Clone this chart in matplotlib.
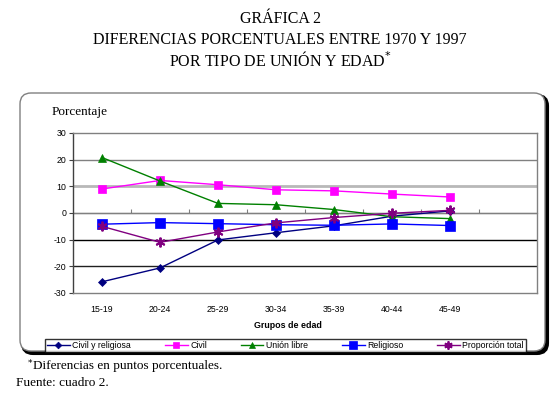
import matplotlib
matplotlib.use("Agg")
import matplotlib.pyplot as plt
from matplotlib.patches import FancyBboxPatch
from matplotlib.lines import Line2D

categories = ["15-19", "20-24", "25-29", "30-34", "35-39", "40-44", "45-49", ""]
civil_religiosa = [-25.8, -20.6, -10.1, -7.4, -4.8, -1.2, 0.8]
civil = [9.0, 12.2, 10.6, 8.7, 8.3, 7.1, 6.0]
union_libre = [20.8, 12.0, 3.6, 3.1, 1.3, -1.4, -2.1]
religioso = [-4.2, -3.6, -4.0, -4.4, -4.6, -4.1, -4.7]
proporcion_total = [-5.0, -11.0, -7.1, -3.7, -1.7, -0.1, 1.0]
yticks = [-30, -20, -10, 0, 10, 20, 30]

series = [
    ("Civil y religiosa", civil_religiosa, "#000080", "D", 4.0),
    ("Civil", civil, "#FF00FF", "s", 5.5),
    ("Unión libre", union_libre, "#008000", "^", 5.5),
    ("Religioso", religioso, "#0000FF", "s", 6.5),
    ("Proporción total", proporcion_total, "#800080", (6, 2, 0), 7.0),
]

W, H = 559, 399
fig = plt.figure(figsize=(W / 100, H / 100), dpi=100)
fig.patch.set_facecolor("white")

# background canvas in pixel coordinates
bg = fig.add_axes([0, 0, 1, 1])
bg.set_xlim(0, W)
bg.set_ylim(H, 0)
bg.axis("off")
shadow = FancyBboxPatch((22, 95), 526, 259, boxstyle="round,pad=0,rounding_size=11",
                        facecolor="black", edgecolor="black", linewidth=1.5)
bg.add_patch(shadow)
frame = FancyBboxPatch((20, 93), 525, 258, boxstyle="round,pad=0,rounding_size=11",
                       facecolor="white", edgecolor="#808080", linewidth=1.0)
bg.add_patch(frame)

serif = "Liberation Serif"
sans = "Liberation Sans"

fig.text(280 / W, 1 - 19 / H, "GRÁFICA 2", ha="center", va="center", family=serif, fontsize=11.5)
fig.text(280 / W, 1 - 40 / H, "DIFERENCIAS PORCENTUALES ENTRE 1970 Y 1997", ha="center", va="center",
         family=serif, fontsize=11.5)
fig.text(280 / W, 1 - 60 / H, "POR TIPO DE UNIÓN Y EDAD$^{*}$", ha="center", va="center",
         family=serif, fontsize=11.5)
fig.text(52 / W, 1 - 112 / H, "Porcentaje", ha="left", va="center", family=serif, fontsize=9.5)
fig.text(288 / W, 1 - 326 / H, "Grupos de edad", ha="center", va="center", family=sans,
         fontsize=6.4, fontweight="bold")
fig.text(27 / W, 1 - 366 / H, "$^{*}$", ha="left", va="center", family=serif, fontsize=9.5)
fig.text(33 / W, 1 - 366 / H, "Diferencias en puntos porcentuales.", ha="left", va="center",
         family=serif, fontsize=9.5)
fig.text(16 / W, 1 - 383 / H, "Fuente: cuadro 2.", ha="left", va="center", family=serif, fontsize=9.5)

# plot area
ax = fig.add_axes([73 / W, 1 - 293 / H, (537 - 73) / W, (293 - 133) / H])
ax.set_facecolor("white")
x = list(range(len(civil)))
ax.set_xlim(-0.5, len(categories) - 0.5)
ax.set_ylim(-30, 30)

ax.axhline(20, color="#808080", lw=1.0, zorder=1)
ax.axhline(10, color="#b8b8b8", lw=2.0, zorder=1)
ax.axhline(-10, color="black", lw=1.0, zorder=1)
ax.axhline(-20, color="#202020", lw=1.0, zorder=1)
ax.axhline(0, color="#808080", lw=1.0, zorder=1)

for name, vals, color, marker, ms in series:
    mew = 1.4 if isinstance(marker, tuple) else 0.5
    ax.plot(x, vals, color=color, lw=1.0, marker=marker, markersize=ms,
            markerfacecolor=color, markeredgecolor=color, markeredgewidth=mew, label=name, zorder=3)

for side in ["top", "right", "bottom"]:
    ax.spines[side].set_color("#808080")
    ax.spines[side].set_linewidth(1.0)
ax.spines["left"].set_color("#404040")
ax.spines["left"].set_linewidth(1.0)

ax.set_yticks(yticks)
ax.set_yticklabels([str(v) for v in yticks], family=sans, fontsize=6.3)
ax.tick_params(axis="y", length=3, width=0.8, color="#404040", pad=2)
ax.set_xticks(range(len(categories)))
ax.set_xticklabels(categories, family=sans, fontsize=6.3)
ax.tick_params(axis="x", length=0, pad=9)

sec = ax.secondary_xaxis(0.5)
sec.set_xticks([i + 0.5 for i in range(len(categories) - 1)])
sec.set_xticklabels([""] * (len(categories) - 1))
sec.tick_params(axis="x", length=3, width=0.8, color="#808080", direction="out")
sec.spines["bottom"].set_visible(False)

# legend
handles = [Line2D([0], [0], color=c, lw=1.0, marker=m, markersize=ms * 0.85,
                  markerfacecolor=c, markeredgecolor=c,
                  markeredgewidth=(1.3 if isinstance(m, tuple) else 0.5))
           for _, _, c, m, ms in series]
labels = [s[0] for s in series]
leg = fig.legend(handles, labels, loc="center", ncol=5,
                 bbox_to_anchor=(285.5 / W, 1 - 345.5 / H),
                 prop={"family": sans, "size": 6.3}, frameon=True, fancybox=False,
                 edgecolor="black", handlelength=2.6, handletextpad=0.3,
                 columnspacing=3.85, borderpad=0.25, borderaxespad=0)
leg.get_frame().set_linewidth(1.0)

fig.savefig("out.png", dpi=100, facecolor="white")
